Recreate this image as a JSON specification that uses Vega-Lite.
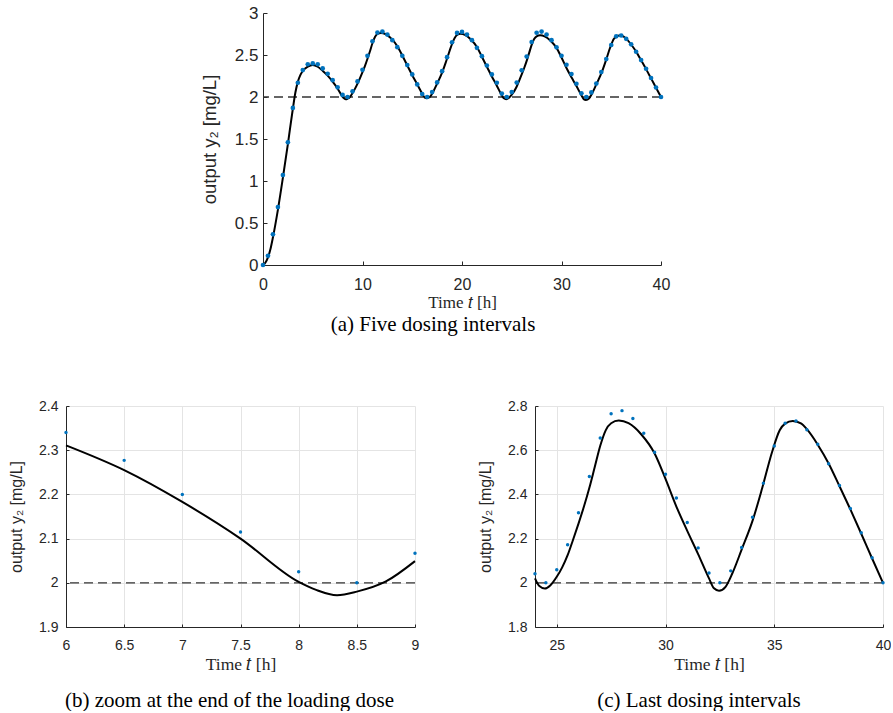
{
  "$schema": "https://vega.github.io/schema/vega-lite/v6.json",
  "padding": {"left": 8, "top": 4, "right": 0, "bottom": 0},
  "background": "white",
  "config": {
    "view": {"stroke": null},
    "font": "Liberation Sans",
    "axis": {
      "domainColor": "#262626", "tickColor": "#262626", "labelColor": "#262626", "titleColor": "#262626",
      "labelFont": "Liberation Sans", "titleFont": "Liberation Sans", "titleFontWeight": "normal",
      "domainWidth": 1, "tickWidth": 1, "gridColor": "#e4e4e4", "gridWidth": 1, "labelOverlap": false, "labelFlush": false
    },
    "title": {"font": "Liberation Serif", "fontWeight": "normal", "fontSize": 21, "color": "#000000", "orient": "bottom", "frame": "group", "anchor": "middle"}
  },
  "datasets": {
    "ref": [{"y": 2}],
    "model": [
      {"t": 0, "y": 0}, {"t": 0.25, "y": 0.03}, {"t": 0.5, "y": 0.09}, {"t": 0.75, "y": 0.19}, {"t": 1.0, "y": 0.33},
      {"t": 1.5, "y": 0.66}, {"t": 2.0, "y": 1.04}, {"t": 2.5, "y": 1.44}, {"t": 3.0, "y": 1.86}, {"t": 3.25, "y": 2.05},
      {"t": 3.5, "y": 2.18}, {"t": 3.75, "y": 2.26}, {"t": 4.0, "y": 2.31}, {"t": 4.5, "y": 2.36}, {"t": 5.0, "y": 2.38},
      {"t": 5.5, "y": 2.36}, {"t": 6.0, "y": 2.311}, {"t": 6.5, "y": 2.255}, {"t": 7.0, "y": 2.183}, {"t": 7.5, "y": 2.1},
      {"t": 8.0, "y": 2.002}, {"t": 8.15, "y": 1.984}, {"t": 8.33, "y": 1.972}, {"t": 8.5, "y": 1.98}, {"t": 8.75, "y": 2.003},
      {"t": 9.0, "y": 2.049}, {"t": 9.25, "y": 2.1}, {"t": 9.5, "y": 2.16}, {"t": 9.75, "y": 2.225}, {"t": 10.0, "y": 2.295},
      {"t": 10.25, "y": 2.37}, {"t": 10.5, "y": 2.455}, {"t": 10.75, "y": 2.545}, {"t": 11.0, "y": 2.64}, {"t": 11.25, "y": 2.715},
      {"t": 11.5, "y": 2.75}, {"t": 11.85, "y": 2.762}, {"t": 12.3, "y": 2.75}, {"t": 12.9, "y": 2.695}, {"t": 13.5, "y": 2.605},
      {"t": 14.0, "y": 2.495}, {"t": 14.5, "y": 2.375}, {"t": 15.0, "y": 2.26}, {"t": 15.5, "y": 2.15}, {"t": 16.0, "y": 2.04},
      {"t": 16.23, "y": 1.995}, {"t": 16.46, "y": 1.985}, {"t": 16.76, "y": 2.0}, {"t": 17.07, "y": 2.055}, {"t": 17.5, "y": 2.16},
      {"t": 18.0, "y": 2.29}, {"t": 18.45, "y": 2.44}, {"t": 18.9, "y": 2.6}, {"t": 19.25, "y": 2.7}, {"t": 19.5, "y": 2.738},
      {"t": 19.85, "y": 2.752}, {"t": 20.3, "y": 2.74}, {"t": 20.9, "y": 2.685}, {"t": 21.5, "y": 2.595}, {"t": 22.0, "y": 2.48},
      {"t": 22.5, "y": 2.36}, {"t": 23.0, "y": 2.245}, {"t": 23.5, "y": 2.135}, {"t": 24.0, "y": 2.02}, {"t": 24.2, "y": 1.985},
      {"t": 24.45, "y": 1.974}, {"t": 24.7, "y": 1.988}, {"t": 25.0, "y": 2.027}, {"t": 25.25, "y": 2.07}, {"t": 25.5, "y": 2.125},
      {"t": 25.75, "y": 2.195}, {"t": 26.0, "y": 2.268}, {"t": 26.25, "y": 2.345}, {"t": 26.5, "y": 2.43}, {"t": 26.75, "y": 2.525},
      {"t": 27.0, "y": 2.62}, {"t": 27.25, "y": 2.69}, {"t": 27.5, "y": 2.722}, {"t": 27.85, "y": 2.734}, {"t": 28.3, "y": 2.722},
      {"t": 28.9, "y": 2.67}, {"t": 29.5, "y": 2.585}, {"t": 30.0, "y": 2.47}, {"t": 30.5, "y": 2.345}, {"t": 31.0, "y": 2.235},
      {"t": 31.5, "y": 2.13}, {"t": 32.0, "y": 2.02}, {"t": 32.23, "y": 1.975}, {"t": 32.46, "y": 1.964}, {"t": 32.76, "y": 1.982},
      {"t": 33.07, "y": 2.042}, {"t": 33.5, "y": 2.15}, {"t": 34.0, "y": 2.28}, {"t": 34.45, "y": 2.43}, {"t": 34.9, "y": 2.592},
      {"t": 35.25, "y": 2.69}, {"t": 35.5, "y": 2.72}, {"t": 35.85, "y": 2.732}, {"t": 36.25, "y": 2.72}, {"t": 36.5, "y": 2.695},
      {"t": 37.0, "y": 2.625}, {"t": 37.5, "y": 2.54}, {"t": 38.0, "y": 2.437}, {"t": 38.5, "y": 2.332}, {"t": 39.0, "y": 2.222},
      {"t": 39.5, "y": 2.11}, {"t": 40.0, "y": 2.0}
    ],
    "dots": [
      {"t": 0, "y": 0}, {"t": 0.5, "y": 0.11}, {"t": 1, "y": 0.365}, {"t": 1.5, "y": 0.69}, {"t": 2, "y": 1.07},
      {"t": 2.5, "y": 1.46}, {"t": 3, "y": 1.87}, {"t": 3.5, "y": 2.17}, {"t": 4, "y": 2.32}, {"t": 4.5, "y": 2.39},
      {"t": 5, "y": 2.4}, {"t": 5.5, "y": 2.39}, {"t": 6, "y": 2.34}, {"t": 6.5, "y": 2.277}, {"t": 7, "y": 2.2},
      {"t": 7.5, "y": 2.115}, {"t": 8, "y": 2.025}, {"t": 8.5, "y": 2.0}, {"t": 9, "y": 2.067}, {"t": 9.5, "y": 2.186},
      {"t": 10, "y": 2.324}, {"t": 10.5, "y": 2.49}, {"t": 11, "y": 2.664}, {"t": 11.5, "y": 2.767}, {"t": 12, "y": 2.779},
      {"t": 12.5, "y": 2.743}, {"t": 13, "y": 2.676}, {"t": 13.5, "y": 2.593}, {"t": 14, "y": 2.49}, {"t": 14.5, "y": 2.38},
      {"t": 15, "y": 2.269}, {"t": 15.5, "y": 2.15}, {"t": 16, "y": 2.036}, {"t": 16.5, "y": 2.0}, {"t": 17, "y": 2.059},
      {"t": 17.5, "y": 2.174}, {"t": 18, "y": 2.308}, {"t": 18.5, "y": 2.474}, {"t": 19, "y": 2.652}, {"t": 19.5, "y": 2.763},
      {"t": 20, "y": 2.775}, {"t": 20.5, "y": 2.743}, {"t": 21, "y": 2.676}, {"t": 21.5, "y": 2.585}, {"t": 22, "y": 2.486},
      {"t": 22.5, "y": 2.375}, {"t": 23, "y": 2.269}, {"t": 23.5, "y": 2.17}, {"t": 24, "y": 2.041}, {"t": 24.5, "y": 2.0},
      {"t": 25, "y": 2.059}, {"t": 25.5, "y": 2.172}, {"t": 26, "y": 2.317}, {"t": 26.5, "y": 2.481}, {"t": 27, "y": 2.655},
      {"t": 27.5, "y": 2.765}, {"t": 28, "y": 2.779}, {"t": 28.5, "y": 2.743}, {"t": 29, "y": 2.677}, {"t": 29.5, "y": 2.591},
      {"t": 30, "y": 2.491}, {"t": 30.5, "y": 2.384}, {"t": 31, "y": 2.273}, {"t": 31.5, "y": 2.158}, {"t": 32, "y": 2.044},
      {"t": 32.5, "y": 2.0}, {"t": 33, "y": 2.054}, {"t": 33.5, "y": 2.16}, {"t": 34, "y": 2.297}, {"t": 34.5, "y": 2.451},
      {"t": 35, "y": 2.619}, {"t": 35.5, "y": 2.722}, {"t": 36, "y": 2.732}, {"t": 36.5, "y": 2.693}, {"t": 37, "y": 2.627},
      {"t": 37.5, "y": 2.539}, {"t": 38, "y": 2.44}, {"t": 38.5, "y": 2.336}, {"t": 39, "y": 2.226}, {"t": 39.5, "y": 2.113},
      {"t": 40, "y": 2.0}
    ]
  },
  "spacing": 64,
  "vconcat": [
    {
      "spacing": 130,
      "hconcat": [
        {"width": 1, "height": 1, "data": {"name": "ref"}, "mark": {"type": "point", "opacity": 0}, "encoding": {}},
        {
          "width": 398, "height": 252,
          "title": {"text": "(a) Five dosing intervals", "offset": 3, "dx": -29},
          "layer": [
            {
              "data": {"name": "ref"},
              "mark": {"type": "rule", "color": "#333333", "strokeWidth": 1.3, "strokeDash": [9, 5]},
              "encoding": {"y": {"field": "y", "type": "quantitative", "scale": {"domain": [0, 3], "nice": false}, "title": "output y₂ [mg/L]"}}
            },
            {
              "data": {"name": "model"},
              "mark": {"type": "line", "color": "#000000", "strokeWidth": 2, "interpolate": "monotone"},
              "encoding": {
                "x": {"field": "t", "type": "quantitative", "scale": {"domain": [0, 40], "nice": false}, "title": "Time 𝑡 [h]",
                  "axis": {"values": [0, 10, 20, 30, 40], "format": "~g", "labelFontSize": 16, "tickSize": -4, "labelPadding": 15.5,
                    "titleFont": "Liberation Serif", "titleFontSize": 17, "titlePadding": 2, "grid": false}},
                "y": {"field": "y", "type": "quantitative", "scale": {"domain": [0, 3], "nice": false}, "title": "output y₂ [mg/L]",
                  "axis": {"values": [0, 0.5, 1, 1.5, 2, 2.5, 3], "format": "~g", "labelFontSize": 17, "tickSize": -4, "labelPadding": 9,
                    "titleFontSize": 18.5, "titlePadding": 14.5, "grid": false}}
              }
            },
            {
              "data": {"name": "dots"},
              "mark": {"type": "circle", "color": "#0072BD", "size": 22, "opacity": 1},
              "encoding": {
                "x": {"field": "t", "type": "quantitative", "scale": {"domain": [0, 40], "nice": false}, "title": "Time 𝑡 [h]"},
                "y": {"field": "y", "type": "quantitative", "scale": {"domain": [0, 3], "nice": false}, "title": "output y₂ [mg/L]"}
              }
            }
          ]
        }
      ]
    },
    {
      "spacing": 58,
      "hconcat": [
        {
          "width": 349, "height": 221,
          "title": {"text": "(b) zoom at the end of the loading dose", "offset": 17, "dx": -11},
          "layer": [
            {
              "data": {"name": "ref"},
              "mark": {"type": "rule", "color": "#333333", "strokeWidth": 1.3, "strokeDash": [9, 5]},
              "encoding": {"y": {"field": "y", "type": "quantitative", "scale": {"domain": [1.9, 2.4], "nice": false}, "title": "output y₂ [mg/L]"}}
            },
            {
              "data": {"name": "model"},
              "transform": [{"filter": "datum.t >= 6 && datum.t <= 9"}],
              "mark": {"type": "line", "color": "#000000", "strokeWidth": 2, "interpolate": "monotone"},
              "encoding": {
                "x": {"field": "t", "type": "quantitative", "scale": {"domain": [6, 9], "nice": false}, "title": "Time 𝑡 [h]",
                  "axis": {"values": [6, 6.5, 7, 7.5, 8, 8.5, 9], "format": "~g", "labelFontSize": 14, "tickSize": -3, "labelPadding": 14,
                    "titleFont": "Liberation Serif", "titleFontSize": 17.5, "titlePadding": 3, "grid": true}},
                "y": {"field": "y", "type": "quantitative", "scale": {"domain": [1.9, 2.4], "nice": false}, "title": "output y₂ [mg/L]",
                  "axis": {"values": [1.9, 2, 2.1, 2.2, 2.3, 2.4], "format": "~g", "labelFontSize": 14, "tickSize": -3, "labelPadding": 11,
                    "titleFontSize": 16, "titlePadding": 13.8, "grid": true}}
              }
            },
            {
              "data": {"name": "dots"},
              "transform": [{"filter": "datum.t >= 6 && datum.t <= 9"}],
              "mark": {"type": "circle", "color": "#0072BD", "size": 12, "opacity": 1},
              "encoding": {
                "x": {"field": "t", "type": "quantitative", "scale": {"domain": [6, 9], "nice": false}, "title": "Time 𝑡 [h]"},
                "y": {"field": "y", "type": "quantitative", "scale": {"domain": [1.9, 2.4], "nice": false}, "title": "output y₂ [mg/L]"}
              }
            }
          ]
        },
        {
          "width": 348, "height": 221,
          "title": {"text": "(c) Last dosing intervals", "offset": 17, "dx": -10},
          "layer": [
            {
              "data": {"name": "ref"},
              "mark": {"type": "rule", "color": "#333333", "strokeWidth": 1.3, "strokeDash": [9, 5]},
              "encoding": {"y": {"field": "y", "type": "quantitative", "scale": {"domain": [1.8, 2.8], "nice": false}, "title": "output y₂ [mg/L]"}}
            },
            {
              "data": {"name": "model"},
              "transform": [{"filter": "datum.t >= 24"}],
              "mark": {"type": "line", "color": "#000000", "strokeWidth": 2, "interpolate": "monotone"},
              "encoding": {
                "x": {"field": "t", "type": "quantitative", "scale": {"domain": [24, 40], "nice": false}, "title": "Time 𝑡 [h]",
                  "axis": {"values": [25, 30, 35, 40], "format": "~g", "labelFontSize": 14, "tickSize": -3, "labelPadding": 14,
                    "titleFont": "Liberation Serif", "titleFontSize": 17.5, "titlePadding": 3, "grid": true}},
                "y": {"field": "y", "type": "quantitative", "scale": {"domain": [1.8, 2.8], "nice": false}, "title": "output y₂ [mg/L]",
                  "axis": {"values": [1.8, 2, 2.2, 2.4, 2.6, 2.8], "format": "~g", "labelFontSize": 14, "tickSize": -3, "labelPadding": 11,
                    "titleFontSize": 16, "titlePadding": 13.8, "grid": true}}
              }
            },
            {
              "data": {"name": "dots"},
              "transform": [{"filter": "datum.t >= 24"}],
              "mark": {"type": "circle", "color": "#0072BD", "size": 12, "opacity": 1},
              "encoding": {
                "x": {"field": "t", "type": "quantitative", "scale": {"domain": [24, 40], "nice": false}, "title": "Time 𝑡 [h]"},
                "y": {"field": "y", "type": "quantitative", "scale": {"domain": [1.8, 2.8], "nice": false}, "title": "output y₂ [mg/L]"}
              }
            }
          ]
        }
      ]
    }
  ]
}
